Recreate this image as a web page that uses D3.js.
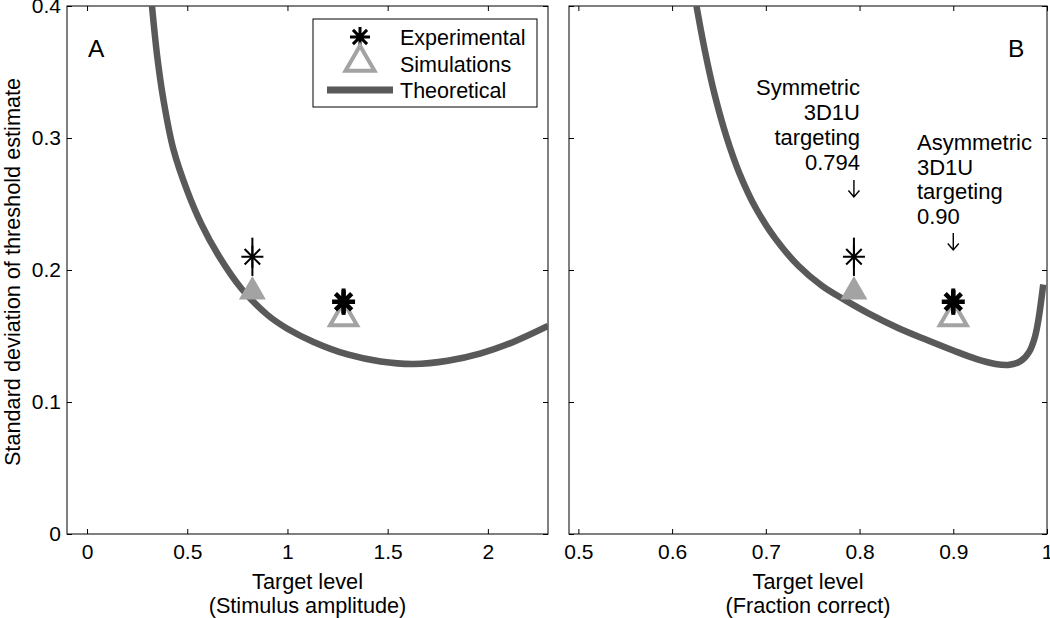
<!DOCTYPE html>
<html>
<head>
<meta charset="utf-8">
<script src="https://cdnjs.cloudflare.com/ajax/libs/d3/7.8.5/d3.min.js"></script>
<style>
  body { margin: 0; background: #fff; }
  svg { display: block; font-family: "Liberation Sans", Arial, sans-serif; }
</style>
</head>
<body>
<div id="chart"></div>
<script>

// ---- data ----

// tick values
var yTicks  = [0, 0.1, 0.2, 0.3, 0.4];
var xTicksA = [0, 0.5, 1, 1.5, 2];
var xTicksB = [0.5, 0.6, 0.7, 0.8, 0.9, 1];

// theoretical curve, panel A (stimulus amplitude)
var theoryAx = [0.324, 0.35, 0.38, 0.43, 0.50, 0.57, 0.66, 0.77, 0.90, 1.00, 1.13, 1.30, 1.465, 1.63, 1.80, 1.965, 2.13, 2.30];
var theoryAy = [0.400, 0.362, 0.330, 0.292, 0.260, 0.235, 0.210, 0.186, 0.166, 0.1555, 0.1455, 0.1360, 0.1307, 0.1288, 0.1313, 0.1369, 0.1457, 0.1576];

// theoretical curve, panel B (fraction correct)
var theoryBx = [0.626, 0.635, 0.645, 0.658, 0.672, 0.690, 0.710, 0.735, 0.760, 0.785, 0.81, 0.84, 0.87, 0.90, 0.925, 0.945, 0.960, 0.972, 0.981, 0.987, 0.991, 0.996];
var theoryBy = [0.400, 0.366, 0.334, 0.301, 0.273, 0.246, 0.224, 0.203, 0.188, 0.177, 0.167, 0.1565, 0.1475, 0.139, 0.1325, 0.1288, 0.1282, 0.131, 0.138, 0.149, 0.163, 0.189];

// experimental points (mean and error half-width) and simulations
var expAx  = [0.825, 1.28];
var expBx  = [0.794, 0.90];
var expY   = [0.21, 0.176];
var expErr = [0.0145, 0.010];
var simY   = [0.1836, 0.164];

// text
var legendLabels = ["Experimental", "Simulations", "Theoretical"];
var noteSym  = ["Symmetric", "3D1U", "targeting", "0.794"];
var noteAsym = ["Asymmetric", "3D1U", "targeting", "0.90"];


// ---- layout ----
var w_svg = 1050;
var h_svg = 618;
var top_ = 6, bottom_ = 534;
var curveColor = "#595959";
var triColor = "#a3a3a3";

var svg = d3.select("#chart")
  .append("svg")
    .attr("width", w_svg)
    .attr("height", h_svg);

var yScale = d3.scaleLinear().domain([0, 0.4]).range([bottom_, top_]);
var xA = d3.scaleLinear().domain([-0.1, 2.3]).range([67, 548]);
var xB = d3.scaleLinear().domain([0.49, 1.0]).range([569, 1047]);

var fmt = d3.format("~g");

// asterisk made of 4 strokes through the centre
function asterisk(r) {
  var p = d3.path();
  for (var k = 0; k < 4; k++) {
    var a = k * Math.PI / 4;
    p.moveTo(-r * Math.cos(a), -r * Math.sin(a));
    p.lineTo(r * Math.cos(a), r * Math.sin(a));
  }
  return p.toString();
}

function triangle(side) {
  // d3 symbol size is the area
  return d3.symbol().type(d3.symbolTriangle).size(Math.sqrt(3) / 4 * side * side)();
}

// thin down arrow, tip at (0,0)
function downArrow(len) {
  var p = d3.path();
  p.moveTo(0, -len); p.lineTo(0, 0);
  p.moveTo(-5.5, -6.5); p.lineTo(0, 0); p.lineTo(5.5, -6.5);
  return p.toString();
}


function panel(id, xScale, xTicks, tx, ty, showYLabels) {

  var x0 = xScale.range()[0], x1 = xScale.range()[1];
  var g = svg.append("g").attr("class", "panel-" + id);

  // clip for the curve
  svg.append("clipPath").attr("id", "clip-" + id)
    .append("rect")
      .attr("x", x0).attr("y", top_)
      .attr("width", x1 - x0).attr("height", bottom_ - top_);

  // bottom axis
  var ax = g.append("g")
    .attr("transform", "translate(0," + bottom_ + ")")
    .call(d3.axisBottom(xScale).tickValues(xTicks).tickFormat(fmt)
      .tickSizeInner(-5).tickSizeOuter(0).tickPadding(10));
  // top ticks
  var axT = g.append("g")
    .attr("transform", "translate(0," + top_ + ")")
    .call(d3.axisTop(xScale).tickValues(xTicks).tickFormat("")
      .tickSizeInner(-5).tickSizeOuter(0));
  // left axis
  var ay = g.append("g")
    .attr("transform", "translate(" + x0 + ",0)")
    .call(d3.axisLeft(yScale).tickValues(yTicks).tickFormat(showYLabels ? fmt : "")
      .tickSizeInner(-5).tickSizeOuter(0).tickPadding(6));
  // right ticks
  var ayR = g.append("g")
    .attr("transform", "translate(" + x1 + ",0)")
    .call(d3.axisRight(yScale).tickValues(yTicks).tickFormat("")
      .tickSizeInner(-5).tickSizeOuter(0));

  [ax, axT, ay, ayR].forEach(function(a) {
    a.select(".domain").remove();
    a.selectAll("line").attr("stroke", "#000");
    a.selectAll("text")
      .attr("fill", "#000")
      .style("font-size", "21px")
      .style("font-family", "'Liberation Sans', Arial, sans-serif");
  });

  // frame
  g.append("rect")
    .attr("x", x0).attr("y", top_)
    .attr("width", x1 - x0).attr("height", bottom_ - top_)
    .attr("fill", "none")
    .attr("stroke", "#000")
    .attr("stroke-width", 1);

  // theoretical curve
  var pts = tx.map(function(v, i) { return [v, ty[i]]; });
  var line = d3.line()
    .x(function(d) { return xScale(d[0]); })
    .y(function(d) { return yScale(d[1]); })
    .curve(d3.curveCatmullRom.alpha(0.5));

  g.append("path")
    .datum(pts)
    .attr("d", line)
    .attr("clip-path", "url(#clip-" + id + ")")
    .attr("fill", "none")
    .attr("stroke", curveColor)
    .attr("stroke-width", 6.5)
    .attr("stroke-linecap", "butt");

  return g;
}


function markers(g, xScale, xs) {

  // simulations: first triangle solid, second open
  g.append("path")
    .attr("d", triangle(27))
    .attr("transform", "translate(" + xScale(xs[0]) + "," + yScale(simY[0]) + ")")
    .attr("fill", triColor);
  g.append("path")
    .attr("d", triangle(27))
    .attr("transform", "translate(" + xScale(xs[1]) + "," + yScale(simY[1]) + ")")
    .attr("fill", "none")
    .attr("stroke", triColor)
    .attr("stroke-width", 4)
    .attr("stroke-linejoin", "miter");

  // error bars
  g.selectAll(".err")
    .data(xs)
    .enter()
    .append("line")
      .attr("x1", function(d) { return xScale(d); })
      .attr("x2", function(d) { return xScale(d); })
      .attr("y1", function(d, i) { return yScale(expY[i] + expErr[i]); })
      .attr("y2", function(d, i) { return yScale(expY[i] - expErr[i]); })
      .attr("stroke", "#000")
      .attr("stroke-width", function(d, i) { return i === 0 ? 2 : 4; });

  // experimental asterisks (second one bold)
  g.selectAll(".ast")
    .data(xs)
    .enter()
    .append("path")
      .attr("d", function(d, i) { return asterisk(i === 0 ? 11 : 11.5); })
      .attr("transform", function(d, i) {
        return "translate(" + xScale(d) + "," + yScale(expY[i]) + ")";
      })
      .attr("fill", "none")
      .attr("stroke", "#000")
      .attr("stroke-width", function(d, i) { return i === 0 ? 2 : 4.5; });
}


// ---- panel A ----
var gA = panel("A", xA, xTicksA, theoryAx, theoryAy, true);
markers(gA, xA, expAx);

// ---- panel B ----
var gB = panel("B", xB, xTicksB, theoryBx, theoryBy, false);
markers(gB, xB, expBx);


// panel letters
svg.append("text").attr("x", 88).attr("y", 57).text("A")
  .style("font-size", "24.5px");
svg.append("text").attr("x", 1008).attr("y", 57).text("B")
  .style("font-size", "24.5px");

// axis titles
function xTitle(xScale, lines) {
  var cx = (xScale.range()[0] + xScale.range()[1]) / 2;
  svg.selectAll(null)
    .data(lines)
    .enter()
    .append("text")
      .attr("x", cx)
      .attr("y", function(d, i) { return 589 + i * 24; })
      .attr("text-anchor", "middle")
      .style("font-size", "21.7px")
      .text(function(d) { return d; });
}
xTitle(xA, ["Target level", "(Stimulus amplitude)"]);
xTitle(xB, ["Target level", "(Fraction correct)"]);

svg.append("text")
  .attr("transform", "translate(20,272) rotate(-90)")
  .attr("text-anchor", "middle")
  .style("font-size", "21.7px")
  .text("Standard deviation of threshold estimate");


// ---- legend ----
var leg = svg.append("g");
leg.append("rect")
  .attr("x", 313).attr("y", 19)
  .attr("width", 224).attr("height", 88)
  .attr("fill", "#fff")
  .attr("stroke", "#000")
  .attr("stroke-width", 1);

leg.append("path")
  .attr("d", asterisk(10))
  .attr("transform", "translate(360,37)")
  .attr("fill", "none").attr("stroke", "#000").attr("stroke-width", 3);
leg.append("path")
  .attr("d", triangle(29))
  .attr("transform", "translate(360,62.5)")
  .attr("fill", "none").attr("stroke", triColor).attr("stroke-width", 4);
leg.append("line")
  .attr("x1", 327).attr("x2", 393).attr("y1", 90).attr("y2", 90)
  .attr("stroke", curveColor).attr("stroke-width", 7);

leg.selectAll(".lab")
  .data(legendLabels)
  .enter()
  .append("text")
    .attr("x", 400)
    .attr("y", function(d, i) { return 45 + i * 26.5; })
    .style("font-size", "21.5px")
    .text(function(d) { return d; });


// ---- annotations in panel B ----
svg.selectAll(".sym")
  .data(noteSym)
  .enter()
  .append("text")
    .attr("x", 860)
    .attr("y", function(d, i) { return 95 + i * 25; })
    .attr("text-anchor", "end")
    .style("font-size", "22px")
    .text(function(d) { return d; });

svg.selectAll(".asym")
  .data(noteAsym)
  .enter()
  .append("text")
    .attr("x", 917)
    .attr("y", function(d, i) { return 150 + i * 24.7; })
    .style("font-size", "22px")
    .text(function(d) { return d; });

// arrows pointing at the targeted levels
svg.append("path")
  .attr("d", downArrow(17))
  .attr("transform", "translate(" + xB(expBx[0]) + ",197)")
  .attr("fill", "none").attr("stroke", "#000").attr("stroke-width", 1.4);
svg.append("path")
  .attr("d", downArrow(17))
  .attr("transform", "translate(" + xB(expBx[1]) + ",250)")
  .attr("fill", "none").attr("stroke", "#000").attr("stroke-width", 1.4);

</script>
</body>
</html>
